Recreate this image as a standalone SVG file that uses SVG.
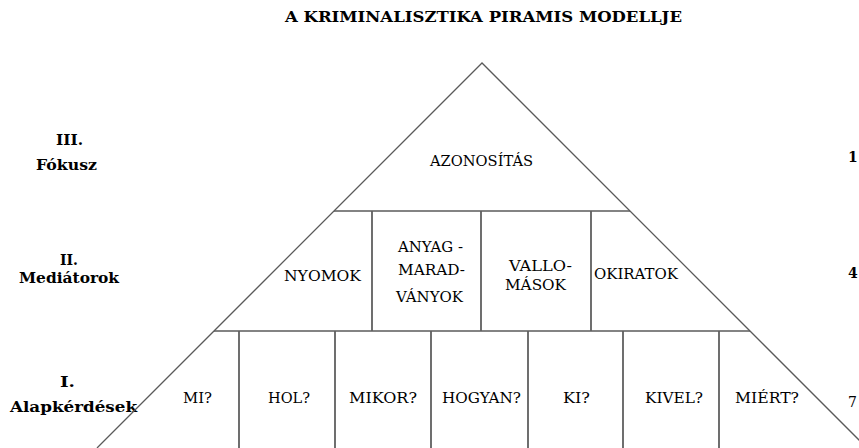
<svg xmlns="http://www.w3.org/2000/svg" width="859" height="448" viewBox="0 0 859 448">
<style>
.bg{fill:#ffffff}
.edge{stroke:#5a5a5a;stroke-width:1.3;fill:none}
.div{stroke:#5f5f5f;stroke-width:1.8;fill:none}
.t{font-family:'DejaVu Serif','Liberation Serif',serif;font-size:14.5px;fill:#000;text-anchor:middle}
.b{font-family:'DejaVu Serif','Liberation Serif',serif;font-size:15.5px;font-weight:bold;fill:#000;text-anchor:middle}
.n{font-family:'DejaVu Serif','Liberation Serif',serif;font-size:14px;fill:#000}
</style>
<rect class="bg" x="0" y="0" width="859" height="448"/>
<g id="title">
<text class="b" x="483.5" y="22" textLength="397" lengthAdjust="spacingAndGlyphs">A KRIMINALISZTIKA PIRAMIS MODELLJE</text>
</g>
<g id="level-labels">
<text class="b" x="69.5" y="145" textLength="27" lengthAdjust="spacingAndGlyphs">III.</text>
<text class="b" x="66.5" y="170" textLength="61" lengthAdjust="spacingAndGlyphs">Fókusz</text>
<text class="b" x="69" y="265" textLength="18" lengthAdjust="spacingAndGlyphs">II.</text>
<text class="b" x="69" y="283" textLength="100" lengthAdjust="spacingAndGlyphs">Mediátorok</text>
<text class="b" x="67.5" y="387" textLength="15" lengthAdjust="spacingAndGlyphs">I.</text>
<text class="b" x="73.5" y="412" textLength="127" lengthAdjust="spacingAndGlyphs">Alapkérdések</text>
</g>
<g id="counts">
<text class="n" x="848" y="162" font-weight="bold">1</text>
<text class="n" x="848" y="278" font-weight="bold">4</text>
<text class="n" x="848" y="407">7</text>
</g>
<g id="connectors">
<polyline class="edge" points="97,448 482,63 867,448"/>
<line class="edge" x1="334" y1="211" x2="630" y2="211"/>
<line class="edge" x1="214" y1="331" x2="750" y2="331"/>
<line class="div" x1="372" y1="211" x2="372" y2="331"/>
<line class="div" x1="481" y1="211" x2="481" y2="331"/>
<line class="div" x1="591" y1="211" x2="591" y2="331"/>
<line class="div" x1="239" y1="331" x2="239" y2="448"/>
<line class="div" x1="335" y1="331" x2="335" y2="448"/>
<line class="div" x1="431" y1="331" x2="431" y2="448"/>
<line class="div" x1="528" y1="331" x2="528" y2="448"/>
<line class="div" x1="623" y1="331" x2="623" y2="448"/>
<line class="div" x1="719" y1="331" x2="719" y2="448"/>
</g>
<g id="azonositas"><text class="t" x="481.5" y="166" textLength="103" lengthAdjust="spacingAndGlyphs">AZONOSÍTÁS</text></g>
<g id="nyomok"><text class="t" x="322.5" y="281" textLength="77" lengthAdjust="spacingAndGlyphs">NYOMOK</text></g>
<g id="anyagmaradvanyok">
<text class="t" x="430.5" y="252" textLength="65" lengthAdjust="spacingAndGlyphs">ANYAG -</text>
<text class="t" x="431.5" y="275" textLength="67" lengthAdjust="spacingAndGlyphs">MARAD-</text>
<text class="t" x="429.5" y="302" textLength="67" lengthAdjust="spacingAndGlyphs">VÁNYOK</text>
</g>
<g id="vallomasok">
<text class="t" x="540.5" y="271" textLength="63" lengthAdjust="spacingAndGlyphs">VALLO-</text>
<text class="t" x="535.5" y="290" textLength="61" lengthAdjust="spacingAndGlyphs">MÁSOK</text>
</g>
<g id="okiratok"><text class="t" x="636" y="279" textLength="84" lengthAdjust="spacingAndGlyphs">OKIRATOK</text></g>
<g id="mi"><text class="t" x="197.5" y="403" textLength="29" lengthAdjust="spacingAndGlyphs">MI?</text></g>
<g id="hol"><text class="t" x="289" y="403" textLength="42" lengthAdjust="spacingAndGlyphs">HOL?</text></g>
<g id="mikor"><text class="t" x="383" y="403" textLength="68" lengthAdjust="spacingAndGlyphs">MIKOR?</text></g>
<g id="hogyan"><text class="t" x="481.5" y="403" textLength="79" lengthAdjust="spacingAndGlyphs">HOGYAN?</text></g>
<g id="ki"><text class="t" x="576.5" y="403" textLength="27" lengthAdjust="spacingAndGlyphs">KI?</text></g>
<g id="kivel"><text class="t" x="674" y="403" textLength="58" lengthAdjust="spacingAndGlyphs">KIVEL?</text></g>
<g id="miert"><text class="t" x="767" y="403" textLength="64" lengthAdjust="spacingAndGlyphs">MIÉRT?</text></g>
</svg>
